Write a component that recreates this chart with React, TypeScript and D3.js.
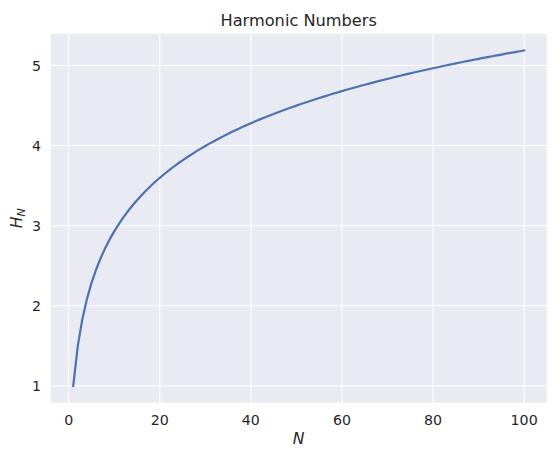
import React from 'react';
import { scaleLinear, line } from 'd3';

// N = 1..100 and the harmonic number H_N
const ns: number[] = Array.from({ length: 100 }, (_, i) => i + 1);
const harmonic: number[] = [
  1.0, 1.5, 1.833, 2.083, 2.283, 2.45, 2.593, 2.718, 2.829, 2.929,
  3.02, 3.103, 3.18, 3.252, 3.318, 3.381, 3.44, 3.495, 3.548, 3.598,
  3.645, 3.691, 3.734, 3.776, 3.816, 3.854, 3.891, 3.927, 3.962, 3.995,
  4.027, 4.058, 4.089, 4.118, 4.147, 4.175, 4.202, 4.228, 4.254, 4.279,
  4.303, 4.327, 4.35, 4.373, 4.395, 4.417, 4.438, 4.459, 4.479, 4.499,
  4.519, 4.538, 4.557, 4.575, 4.594, 4.611, 4.629, 4.646, 4.663, 4.68,
  4.696, 4.712, 4.728, 4.744, 4.759, 4.774, 4.789, 4.804, 4.819, 4.833,
  4.847, 4.861, 4.875, 4.888, 4.901, 4.915, 4.928, 4.94, 4.953, 4.965,
  4.978, 4.99, 5.002, 5.014, 5.026, 5.037, 5.049, 5.06, 5.071, 5.083,
  5.094, 5.104, 5.115, 5.126, 5.136, 5.147, 5.157, 5.167, 5.177, 5.187,
];
const xTicks: number[] = [0, 20, 40, 60, 80, 100];
const yTicks: number[] = [1, 2, 3, 4, 5];

const W = 559;
const H = 452;
const left = 50.7;
const right = 546.7;
const top = 33.7;
const bottom = 402.7;

const font = 'DejaVu Sans, sans-serif';
const ink = '#262626';

const App = () => {
  const xMin = Math.min(...ns);
  const xMax = Math.max(...ns);
  const yMin = Math.min(...harmonic);
  const yMax = Math.max(...harmonic);
  const xPad = (xMax - xMin) * 0.05;
  const yPad = (yMax - yMin) * 0.05;

  const x = scaleLinear().domain([xMin - xPad, xMax + xPad]).range([left, right]);
  const y = scaleLinear().domain([yMin - yPad, yMax + yPad]).range([bottom, top]);

  const path = line<number>()
    .x((_, i) => x(ns[i]))
    .y((d) => y(d))(harmonic);

  const midX = (left + right) / 2;
  const midY = (top + bottom) / 2;

  return (
    <svg
      width={W}
      height={H}
      style={{ position: 'absolute', left: 0, top: 0, background: '#fff' }}
    >
      <rect x={left} y={top} width={right - left} height={bottom - top} fill='#eaeaf2' />
      {xTicks.map((t) => (
        <line key={'gx' + t} x1={x(t)} x2={x(t)} y1={top} y2={bottom} stroke='#fff' strokeWidth={1.1} />
      ))}
      {yTicks.map((t) => (
        <line key={'gy' + t} x1={left} x2={right} y1={y(t)} y2={y(t)} stroke='#fff' strokeWidth={1.1} />
      ))}
      <path d={path || ''} fill='none' stroke='#4c72b0' strokeWidth={2.2} strokeLinejoin='round' strokeLinecap='square' />

      {xTicks.map((t) => (
        <text key={'tx' + t} x={x(t)} y={424.7} fontFamily={font} fontSize={14.2} fill={ink} textAnchor='middle'>
          {t}
        </text>
      ))}
      {yTicks.map((t) => (
        <text key={'ty' + t} x={41} y={y(t) + 5.2} fontFamily={font} fontSize={14.2} fill={ink} textAnchor='end'>
          {t}
        </text>
      ))}

      <text x={midX} y={25.7} fontFamily={font} fontSize={16.2} fill={ink} textAnchor='middle'>
        Harmonic Numbers
      </text>
      <text x={midX} y={444} fontFamily={font} fontSize={15.6} fontStyle='italic' fill={ink} textAnchor='middle'>
        N
      </text>
      <text
        transform={`translate(21.5, ${midY}) rotate(-90)`}
        fontFamily={font}
        fontSize={15.6}
        fontStyle='italic'
        fill={ink}
        textAnchor='middle'
      >
        H
        <tspan fontSize={11} dy={3}>N</tspan>
      </text>
    </svg>
  );
};

export default App;
